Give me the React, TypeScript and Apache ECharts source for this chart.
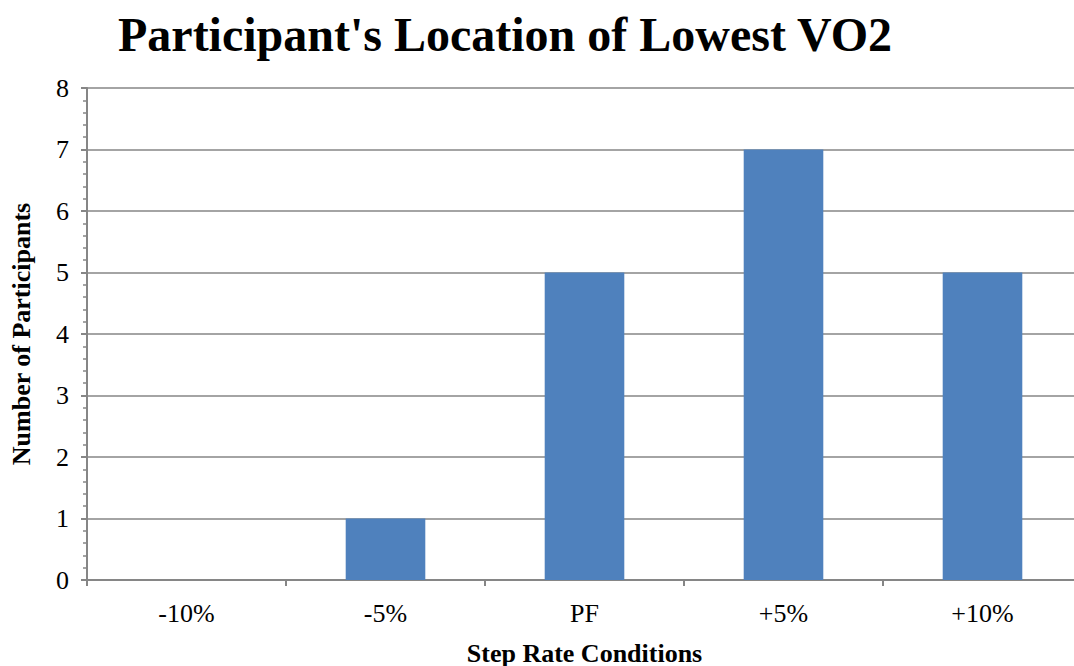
import React, { useEffect, useRef } from "react";
import * as echarts from "echarts";

const categories = ["-10%", "-5%", "PF", "+5%", "+10%"];
const participants = [0, 1, 5, 7, 5];
const titleText = "Participant's Location of Lowest VO2";
const xName = "Step Rate Conditions";
const yName = "Number of Participants";

export default function App() {
  const ref = useRef<HTMLDivElement>(null);
  useEffect(() => {
    if (!ref.current) return;
    const chart = echarts.init(ref.current, null, { renderer: "svg" });
    const font = "'Liberation Serif', 'Times New Roman', serif";
    chart.setOption({
      animation: false,
      backgroundColor: "#ffffff",
      textStyle: { fontFamily: font },
      title: {
        text: titleText,
        left: 113,
        top: 5,
        textStyle: { fontFamily: font, fontSize: 48, fontWeight: "bold", color: "#000" },
      },
      grid: {
        left: 87,
        top: 88,
        width: 995,
        height: 492,
        containLabel: false,
        outerBoundsMode: "none",
      },
      xAxis: {
        type: "category",
        data: categories,
        name: xName,
        nameLocation: "middle",
        nameGap: 60,
        nameTextStyle: { fontFamily: font, fontSize: 26, fontWeight: "bold", color: "#000" },
        axisLine: { lineStyle: { color: "#868686", width: 2 } },
        axisTick: { show: true, alignWithLabel: false, length: 6, lineStyle: { color: "#868686", width: 2 } },
        axisLabel: { fontFamily: font, fontSize: 26, color: "#000", margin: 20 },
        splitLine: { show: false },
      },
      yAxis: {
        type: "value",
        min: 0,
        max: 8,
        interval: 1,
        name: yName,
        nameLocation: "middle",
        nameGap: 53,
        nameTextStyle: { fontFamily: font, fontSize: 26, fontWeight: "bold", color: "#000" },
        axisLine: { show: true, lineStyle: { color: "#868686", width: 2 } },
        axisTick: { show: true, inside: false, length: 6, lineStyle: { color: "#868686", width: 2 } },
        minorTick: { show: true, splitNumber: 5, length: 4, lineStyle: { color: "#868686", width: 1.5 } },
        axisLabel: { fontFamily: font, fontSize: 26, color: "#000", margin: 18 },
        splitLine: { show: true, lineStyle: { color: "#868686", width: 1.5 } },
      },
      series: [
        {
          type: "bar",
          data: participants,
          barWidth: "40%",
          itemStyle: { color: "#4F81BD" },
        },
      ],
    });
    return () => chart.dispose();
  }, []);
  return (
    <div
      ref={ref}
      style={{ position: "fixed", left: 0, top: 0, width: 1074, height: 666, background: "#fff" }}
    />
  );
}
